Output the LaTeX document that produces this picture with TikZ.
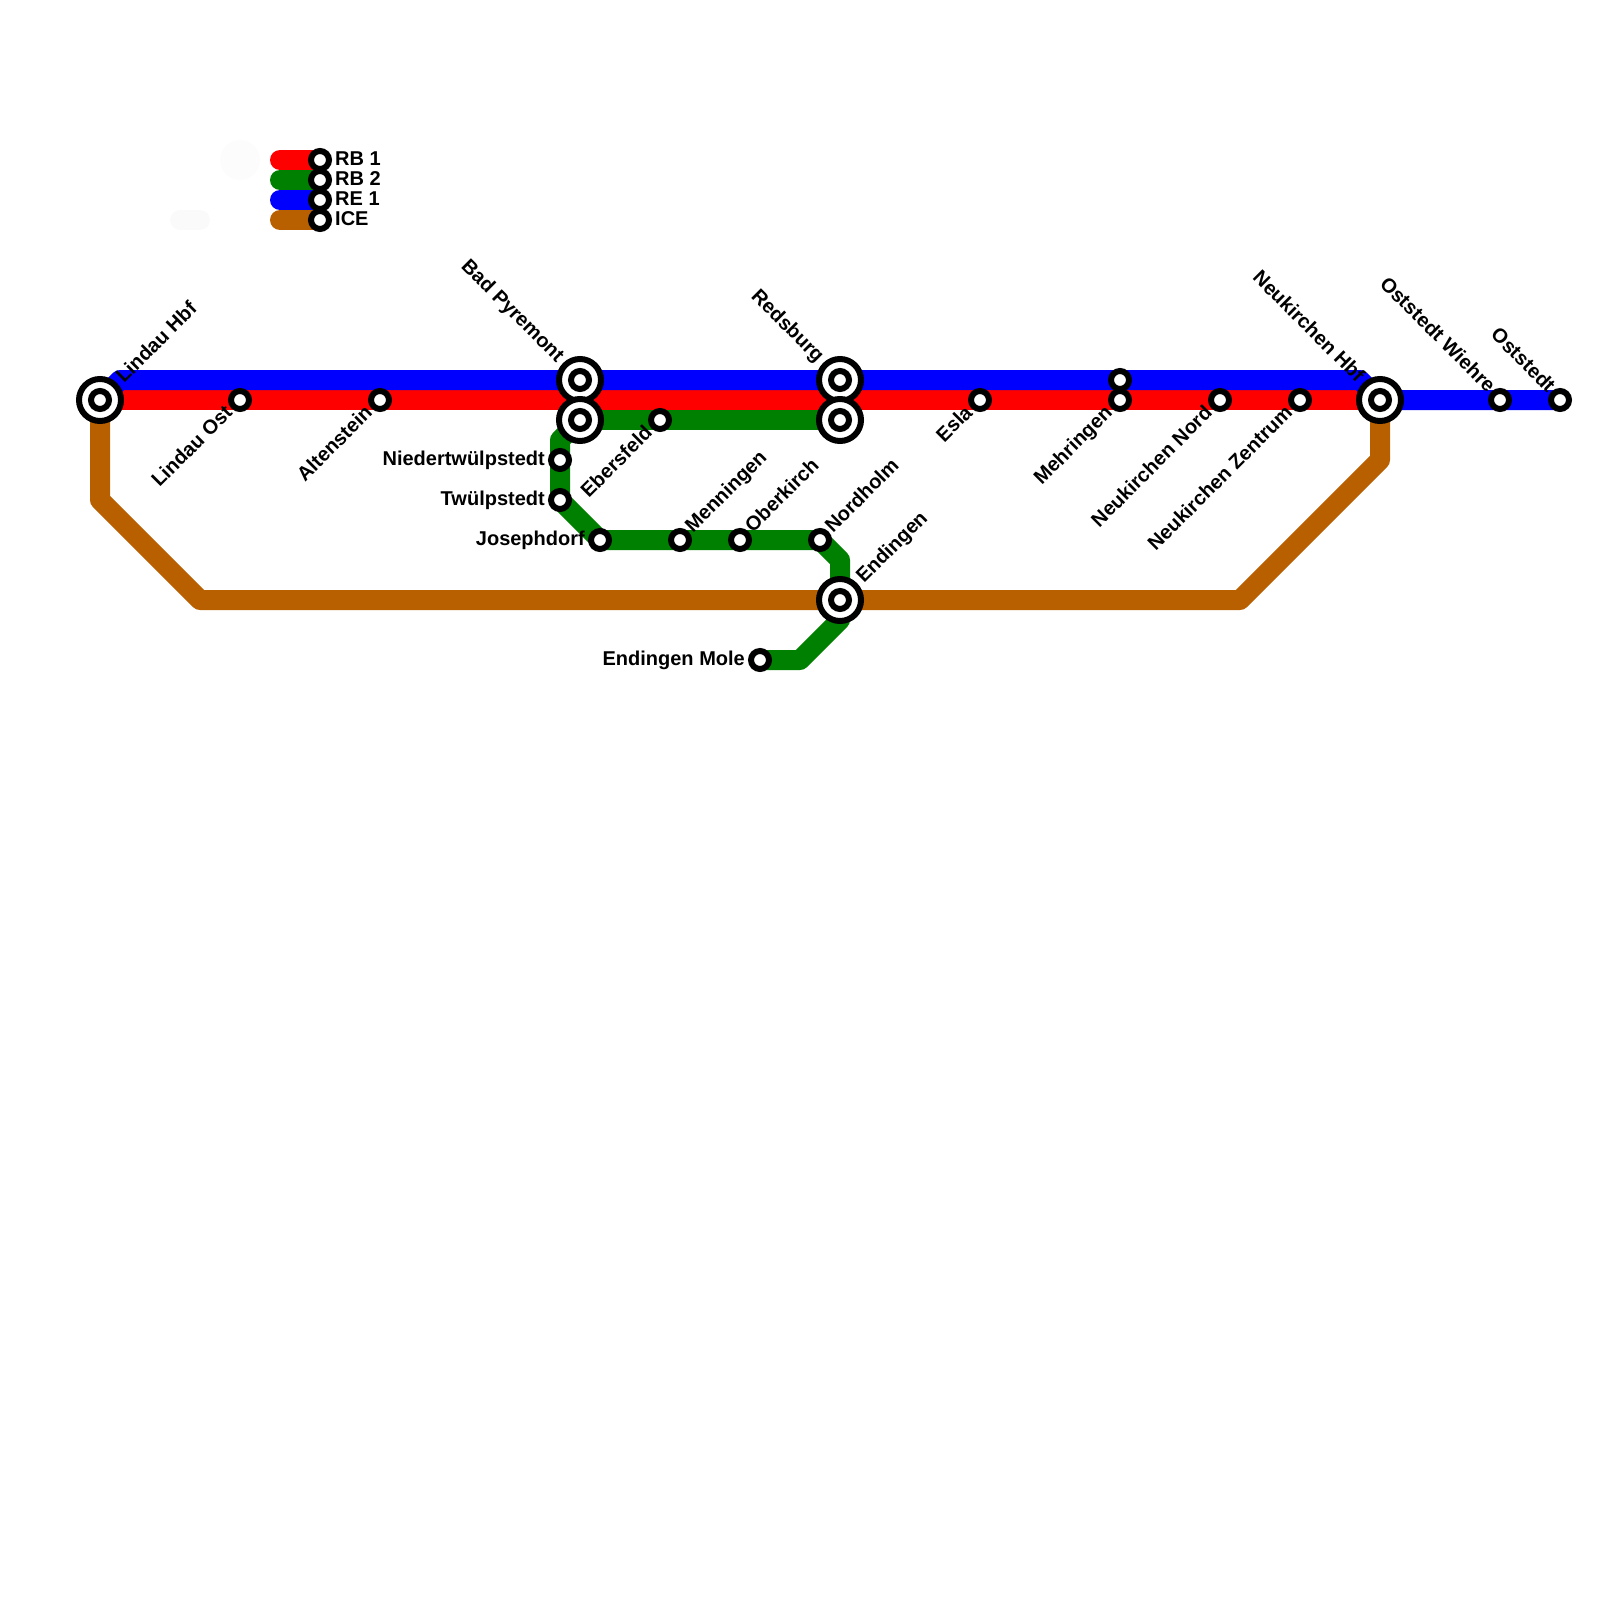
\documentclass[tikz,border=0pt]{standalone}
\usepackage{fontspec}
\setmainfont{Liberation Sans}
\usetikzlibrary{backgrounds}

\begin{document}
\begin{tikzpicture}[
    x=1pt, y=-1pt,
    stn/.style={draw, circle, fill=white, line width=6pt, minimum size=18pt, inner sep=0pt},
    xstn/.style={draw, circle, fill=white, line width=6pt, minimum size=42pt, inner sep=0pt},
    rail/.style={line width=20pt, line join=round, line cap=round},
    lbl/.style={inner sep=0pt, font=\fontsize{20}{20}\selectfont\bfseries},
    lblw/.style={lbl, anchor=base east},
    lble/.style={lbl, anchor=base west},
    lblne/.style={lbl, rotate=45, anchor=base west},
    lblsw/.style={lbl, rotate=45, anchor=base east},
    lblnw/.style={lbl, rotate=-45, anchor=base east}
]
    \definecolor{iceline}{HTML}{B86000}
    \definecolor{rbgreen}{HTML}{008000}
    \definecolor{ghost}{HTML}{FCFCFC}
    \definecolor{ghostb}{HTML}{FAFAFA}
    \useasboundingbox (0,0) rectangle (1600,1600);

    % Faint marks left of the legend
    \fill[ghost] (240,160) circle (20);
    \draw[rail, ghostb] (180,220) -- (200,220);

    % Legend
    \node[stn] (keyred) at (320,160) {};
    \node[stn] (keygreen) at (320,180) {};
    \node[stn] (keyblue) at (320,200) {};
    \node[stn] (keyice) at (320,220) {};
    \coordinate (keyreda) at (280,160);
    \coordinate (keygreena) at (280,180);
    \coordinate (keybluea) at (280,200);
    \coordinate (keyicea) at (280,220);
    \node[lble] (keyredlbl) at ([shift={(15,5)}]keyred.center) {RB 1};
    \node[lble] (keygreenlbl) at ([shift={(15,5)}]keygreen.center) {RB 2};
    \node[lble] (keybluelbl) at ([shift={(15,5)}]keyblue.center) {RE 1};
    \node[lble] (keyicelbl) at ([shift={(15,5)}]keyice.center) {ICE};

    % Interchanges
    \node[xstn] (lindau) at (100,400) {};
    \node[stn] (lindauin) at (lindau.center) {};
    \node[xstn] (pyrmont) at (580,380) {};
    \node[stn] (pyrmontin) at (pyrmont.center) {};
    \node[xstn] (pyrmontb) at (580,420) {};
    \node[stn] (pyrmontbin) at (pyrmontb.center) {};
    \node[xstn] (redsburg) at (840,380) {};
    \node[stn] (redsburgin) at (redsburg.center) {};
    \node[xstn] (redsburgb) at (840,420) {};
    \node[stn] (redsburgbin) at (redsburgb.center) {};
    \node[xstn] (endingen) at (840,600) {};
    \node[stn] (endingenin) at (endingen.center) {};
    \node[xstn] (neukirchen) at (1380,400) {};
    \node[stn] (neukirchenin) at (neukirchen.center) {};

    % Plain stops
    \node[stn] (lindauost) at (240,400) {};
    \node[stn] (altenstein) at (380,400) {};
    \node[stn] (ebersfeld) at (660,420) {};
    \node[stn] (niedertw) at (560,460) {};
    \node[stn] (twuelp) at (560,500) {};
    \node[stn] (josephdorf) at (600,540) {};
    \node[stn] (menningen) at (680,540) {};
    \node[stn] (oberkirch) at (740,540) {};
    \node[stn] (nordholm) at (820,540) {};
    \node[stn] (mole) at (760,660) {};
    \node[stn] (esla) at (980,400) {};
    \node[stn] (mehringenb) at (1120,380) {};
    \node[stn] (mehringen) at (1120,400) {};
    \node[stn] (neunord) at (1220,400) {};
    \node[stn] (neuzentrum) at (1300,400) {};
    \node[stn] (wiehre) at (1500,400) {};
    \node[stn] (oststedt) at (1560,400) {};

    % Bends
    \coordinate (icea) at (100,500);
    \coordinate (iceb) at (200,600);
    \coordinate (icec) at (1240,600);
    \coordinate (iced) at (1380,460);
    \coordinate (bluea) at (120,380);
    \coordinate (blueb) at (1360,380);
    \coordinate (greena) at (560,440);
    \coordinate (greenb) at (840,560);
    \coordinate (greenc) at (840,620);
    \coordinate (greend) at (800,660);

    % Lines under the stations
    \begin{scope}[on background layer]
        \draw[rail, red] (keyreda) -- (keyred.center);
        \draw[rail, rbgreen] (keygreena) -- (keygreen.center);
        \draw[rail, blue] (keybluea) -- (keyblue.center);
        \draw[rail, iceline] (keyicea) -- (keyice.center);

        \draw[rail, iceline] (lindau.center) -- (icea) -- (iceb) -- (icec) -- (iced) -- (neukirchen.center);
        \draw[rail, rbgreen] (pyrmontb.center) -- (redsburgb.center);
        \draw[rail, rbgreen] (pyrmontb.center) -- (greena) -- (twuelp.center) -- (josephdorf.center) -- (nordholm.center) -- (greenb) -- (greenc) -- (greend) -- (mole.center);
        \draw[rail, red] (lindau.center) -- (neukirchen.center);
        \draw[rail, blue] (lindau.center) -- (bluea) -- (blueb) -- (neukirchen.center) -- (oststedt.center);
    \end{scope}

    % Station names
    \node[lblne] (lindaulbl) at ([shift={(24,-16)}]lindau.center) {Lindau Hbf};
    \node[lblsw] (lindauostlbl) at ([shift={(-6.5,14)}]lindauost.center) {Lindau Ost};
    \node[lblsw] (altensteinlbl) at ([shift={(-6.5,14)}]altenstein.center) {Altenstein};
    \node[lblnw] (pyrmontlbl) at ([shift={(-23.5,-16.5)}]pyrmont.center) {Bad Pyremont};
    \node[lblsw] (ebersfeldlbl) at ([shift={(-6.5,14)}]ebersfeld.center) {Ebersfeld};
    \node[lblw] (niedertwlbl) at ([shift={(-15,5)}]niedertw.center) {Niedertwülpstedt};
    \node[lblw] (twuelplbl) at ([shift={(-15,5)}]twuelp.center) {Twülpstedt};
    \node[lblw] (josephdorflbl) at ([shift={(-15,5)}]josephdorf.center) {Josephdorf};
    \node[lblne] (menningenlbl) at ([shift={(13,-6.5)}]menningen.center) {Menningen};
    \node[lblne] (oberkirchlbl) at ([shift={(13,-6.5)}]oberkirch.center) {Oberkirch};
    \node[lblne] (nordholmlbl) at ([shift={(13,-6.5)}]nordholm.center) {Nordholm};
    \node[lblne] (endingenlbl) at ([shift={(24,-16)}]endingen.center) {Endingen};
    \node[lblw] (molelbl) at ([shift={(-15,5)}]mole.center) {Endingen Mole};
    \node[lblnw] (redsburglbl) at ([shift={(-23.5,-16.5)}]redsburg.center) {Redsburg};
    \node[lblsw] (eslalbl) at ([shift={(-6.5,14)}]esla.center) {Esla};
    \node[lblsw] (mehringenlbl) at ([shift={(-6.5,14)}]mehringen.center) {Mehringen};
    \node[lblsw] (neunordlbl) at ([shift={(-6.5,14)}]neunord.center) {Neukirchen Nord};
    \node[lblsw] (neuzentrumlbl) at ([shift={(-6.5,14)}]neuzentrum.center) {Neukirchen Zentrum};
    \node[lblnw] (neukirchenlbl) at ([shift={(-23.5,-16.5)}]neukirchen.center) {Neukirchen Hbf};
    \node[lblnw] (wiehrelbl) at ([shift={(-12.7,-6.5)}]wiehre.center) {Oststedt Wiehre};
    \node[lblnw] (oststedtlbl) at ([shift={(-12.7,-6.5)}]oststedt.center) {Oststedt};
\end{tikzpicture}
\end{document}
